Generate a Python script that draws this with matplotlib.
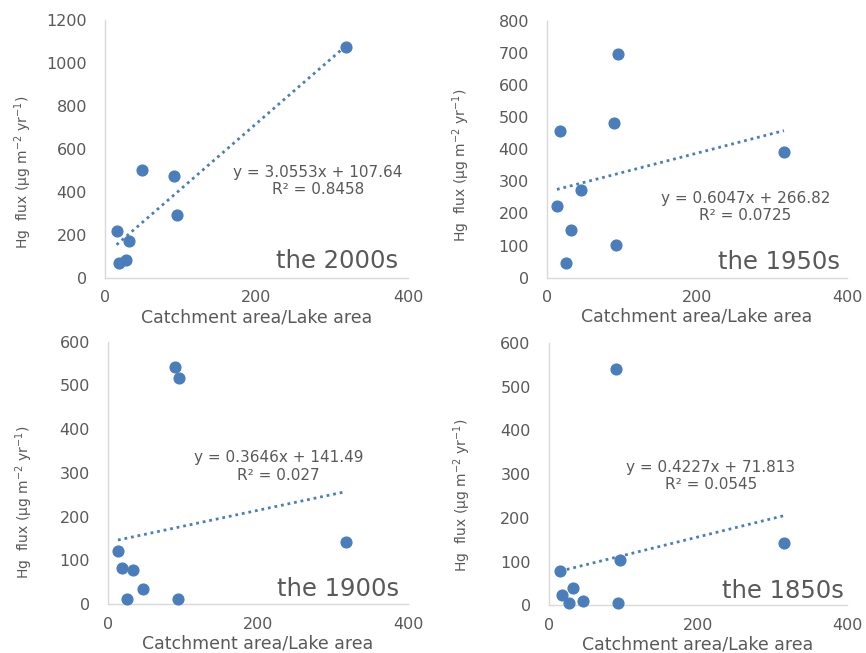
import numpy as np
import matplotlib
matplotlib.use('Agg')
import matplotlib.pyplot as plt

plt.rcParams['font.family'] = ['DejaVu Sans']
plt.rcParams['mathtext.default'] = 'regular'

# Scatter data (x = catchment/lake area ratio, y = Hg flux)
x_2000s = [15.4, 18.5, 27.7, 32.0, 48.4, 91.0, 95.5, 318.0]
y_2000s = [219, 70, 82, 171, 504, 474, 293, 1073]

x_1950s = [13.3, 17.8, 24.9, 31.6, 45.8, 89.3, 92.0, 94.2, 316.0]
y_1950s = [223, 458, 46, 149, 274, 482, 101, 697, 391]

x_1900s = [13.3, 18.7, 33.0, 25.8, 46.7, 89.8, 95.2, 93.4, 317.0]
y_1900s = [121, 83, 77, 12, 34, 542, 518, 12, 142]

x_1850s = [15.6, 18.3, 27.2, 32.6, 46.4, 89.8, 92.9, 95.2, 315.3]
y_1850s = [78, 24, 6, 39, 10, 541, 6, 104, 142]

# Linear trend lines as printed on the chart (slope, intercept, R²)
fits = {
    'the 2000s': (3.0553, 107.64, '0.8458'),
    'the 1950s': (0.6047, 266.82, '0.0725'),
    'the 1900s': (0.3646, 141.49, '0.027'),
    'the 1850s': (0.4227, 71.813, '0.0545'),
}

y_ticks = {
    'the 2000s': [0, 200, 400, 600, 800, 1000, 1200],
    'the 1950s': [0, 100, 200, 300, 400, 500, 600, 700, 800],
    'the 1900s': [0, 100, 200, 300, 400, 500, 600],
    'the 1850s': [0, 100, 200, 300, 400, 500, 600],
}
x_ticks = [0, 200, 400]

panels = [
    ('the 2000s', x_2000s, y_2000s, [0.1212, 0.5743, 0.3499, 0.3951],
     (0.703, 0.377), (0.967, 0.039), (-0.271, 0.41)),
    ('the 1950s', x_1950s, y_1950s, [0.6316, 0.5747, 0.3464, 0.3936],
     (0.662, 0.275), (0.976, 0.033), (-0.286, 0.439)),
    ('the 1900s', x_1900s, y_1900s, [0.1247, 0.0750, 0.3464, 0.4017],
     (0.568, 0.524), (0.972, 0.032), (-0.278, 0.387)),
    ('the 1850s', x_1850s, y_1850s, [0.6336, 0.0730, 0.3445, 0.4017],
     (0.543, 0.494), (0.989, 0.027), (-0.290, 0.42)),
]

blue = '#4a7ebb'
grey = '#595959'

fig = plt.figure(figsize=(8.66, 6.53), dpi=100)

for name, xs, ys, pos, eq_pos, name_pos, ylab_pos in panels:
    ax = fig.add_axes(pos)
    ax.scatter(xs, ys, s=60, color=blue, zorder=3, clip_on=False)

    slope, icpt, r2 = fits[name]
    xl = np.array([min(xs), max(xs)])
    ax.plot(xl, slope * xl + icpt, color=blue, lw=2.0,
            linestyle=(0, (1, 1.4)), zorder=2)

    yt = y_ticks[name]
    ax.set_xlim(0, 400)
    ax.set_ylim(yt[0], yt[-1])
    ax.set_xticks(x_ticks)
    ax.set_yticks(yt)
    ax.tick_params(length=0, labelsize=11.5, colors=grey)
    ax.tick_params(axis='y', pad=13)
    ax.tick_params(axis='x', pad=9)

    for s in ['top', 'right']:
        ax.spines[s].set_visible(False)
    for s in ['left', 'bottom']:
        ax.spines[s].set_color('#d9d9d9')
        ax.spines[s].set_linewidth(1.0)

    ax.set_xlabel('Catchment area/Lake area', fontsize=12.5, color=grey, labelpad=2)
    ax.set_ylabel('Hg  flux (µg m$^{-2}$ yr$^{-1}$)', fontsize=10, color=grey,
                  va='center')
    ax.yaxis.set_label_coords(*ylab_pos)

    ax.text(eq_pos[0], eq_pos[1],
            f'y = {slope}x + {icpt}\nR² = {r2}',
            transform=ax.transAxes, ha='center', va='center',
            multialignment='center', fontsize=11, color=grey, linespacing=1.2)
    ax.text(name_pos[0], name_pos[1], name, transform=ax.transAxes,
            ha='right', va='baseline', fontsize=17.5, color=grey)

fig.savefig('out.png', dpi=100)
